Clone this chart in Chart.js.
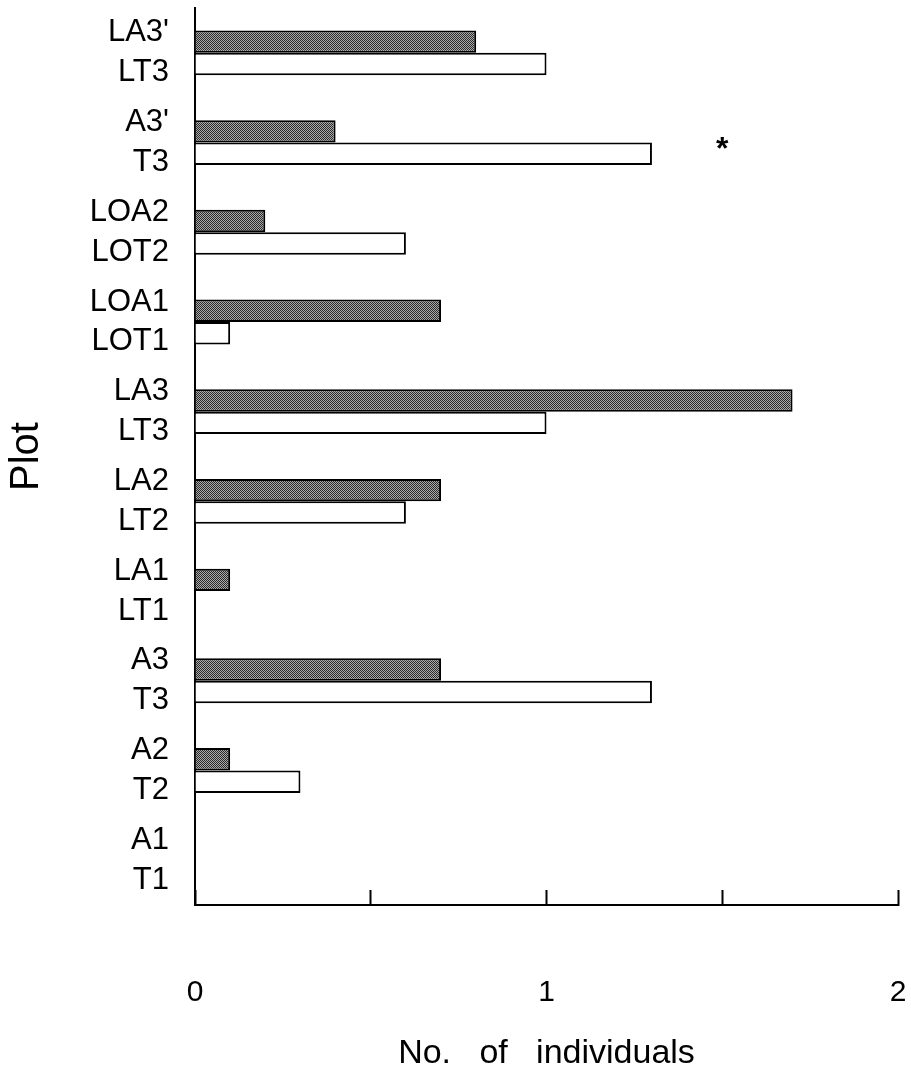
<!DOCTYPE html>
<html>
<head>
<meta charset="utf-8">
<script src="https://cdn.jsdelivr.net/npm/chart.js@4"></script>
<style>
    html, body { margin: 0; padding: 0; background: #fff; }
    #wrap { width: 911px; height: 1075px; }
</style>
</head>
<body>
<div id="wrap"><canvas id="chart1"></canvas></div>
<script>
// each row of the figure is a pair: "A" plot (shaded bar) above "T" plot (open bar)
const aLabels = ["LA3'", "A3'", "LOA2", "LOA1", "LA3", "LA2", "LA1", "A3", "A2", "A1"];
const tLabels = ["LT3", "T3", "LOT2", "LOT1", "LT3", "LT2", "LT1", "T3", "T2", "T1"];
const aValues = [0.8, 0.4, 0.2, 0.7, 1.7, 0.7, 0.1, 0.7, 0.1, 0];
const tValues = [1.0, 1.3, 0.6, 0.1, 1.0, 0.6, 0, 1.3, 0.3, 0];
const xTicks = [0, 1, 2];

const font = "'Liberation Sans', Arial, sans-serif";

// stippled fill like the printed figure
function stipple() {
    var c = document.createElement("canvas");
    c.width = 2;
    c.height = 2;
    var g = c.getContext("2d");
    g.fillStyle = "#aaaaaa";
    g.fillRect(0, 0, 2, 2);
    g.fillStyle = "#2a2a2a";
    g.fillRect(0, 0, 1, 1);
    g.fillRect(1, 1, 1, 1);
    return g.createPattern(c, "repeat");
}

// asterisk beside the second pair (A3' / T3)
const starMark = {
    id: "starMark",
    afterDraw: function (chart) {
        var ctx = chart.ctx;
        var x = chart.scales.x.getPixelForValue(1.5);
        var y = chart.scales.y.getPixelForValue(1);
        ctx.save();
        ctx.fillStyle = "#000";
        ctx.font = "bold 32px " + font;
        ctx.textAlign = "center";
        ctx.textBaseline = "middle";
        ctx.fillText("*", x, y + 8);
        ctx.restore();
    },
};

var ctx = document.getElementById("chart1").getContext("2d");
var myChart = new Chart(ctx, {
    type: "bar",
    data: {
        labels: aLabels.map(function (a, i) { return [a, tLabels[i]]; }),
        datasets: [
            {
                label: "A",
                data: aValues,
                backgroundColor: stipple(),
                borderColor: "#000",
                borderWidth: 2,
            },
            {
                label: "T",
                data: tValues,
                backgroundColor: "#fff",
                borderColor: "#000",
                borderWidth: 2,
            },
        ],
    },
    options: {
        indexAxis: "y",
        responsive: true,
        maintainAspectRatio: false,
        animation: false,
        events: [],
        categoryPercentage: 0.5,
        barPercentage: 1,
        layout: { padding: { top: 8, right: 13, bottom: 0, left: 0 } },
        plugins: {
            legend: { display: false },
            tooltip: { enabled: false },
        },
        scales: {
            x: {
                type: "linear",
                min: 0,
                max: 2,
                afterFit: function (scale) {
                    scale.height = 170;
                    scale.paddingLeft = 0;
                    scale.paddingRight = 0;
                },
                ticks: {
                    stepSize: 0.5,
                    color: "#000",
                    padding: 85,
                    maxRotation: 0,
                    font: { family: font, size: 30 },
                    callback: function (v) { return xTicks.indexOf(v) >= 0 ? String(v) : ""; },
                },
                grid: {
                    drawOnChartArea: false,
                    drawTicks: true,
                    tickLength: -15,
                    tickColor: "#000",
                    tickWidth: 2,
                },
                border: { color: "#000", width: 2 },
                title: {
                    display: true,
                    text: "No.   of   individuals",
                    color: "#000",
                    font: { family: font, size: 34 },
                    padding: { top: 0, bottom: 1 },
                },
            },
            y: {
                afterFit: function (scale) {
                    scale.width = 195;
                    scale.paddingTop = 0;
                    scale.paddingBottom = 0;
                },
                ticks: {
                    color: "#000",
                    padding: 26,
                    autoSkip: false,
                    font: { family: font, size: 31, lineHeight: 1.29 },
                },
                grid: { drawOnChartArea: false, drawTicks: false },
                border: { color: "#000", width: 2 },
                title: {
                    display: true,
                    text: "Plot",
                    color: "#000",
                    font: { family: font, size: 40 },
                    padding: { top: 3, bottom: 0 },
                },
            },
        },
    },
    plugins: [starMark],
});
</script>
</body>
</html>
